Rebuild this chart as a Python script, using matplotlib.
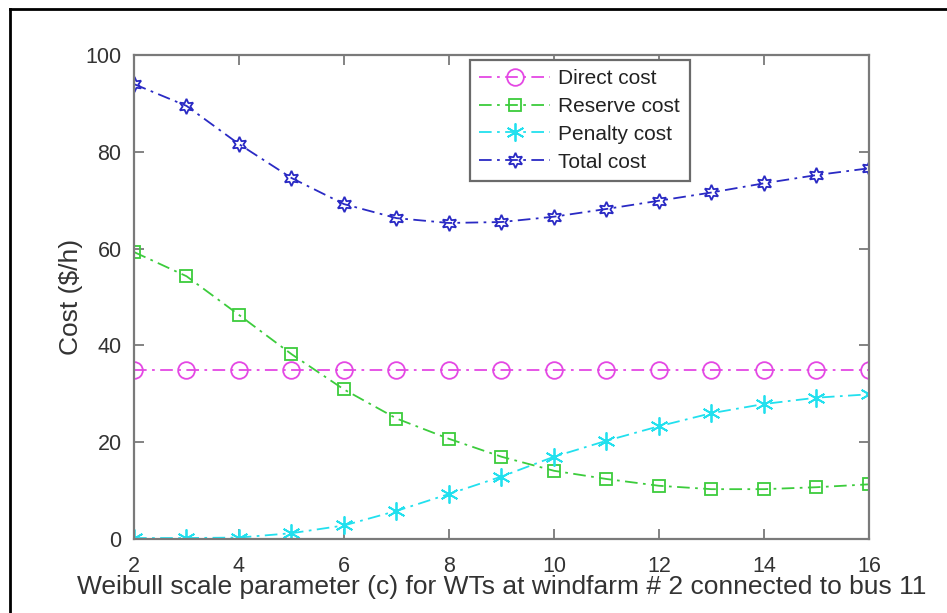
import matplotlib.pyplot as plt
from matplotlib.lines import Line2D
import numpy as np

plt.rcParams['font.family'] = ['Liberation Sans', 'DejaVu Sans']

c_values = [2, 3, 4, 5, 6, 7, 8, 9, 10, 11, 12, 13, 14, 15, 16]
direct_cost = [35, 35, 35, 35, 35, 35, 35, 35, 35, 35, 35, 35, 35, 35, 35]
reserve_cost = [59.3, 54.3, 46.3, 38.2, 30.9, 24.9, 20.7, 17.0, 14.1,
                12.4, 11.0, 10.3, 10.3, 10.7, 11.3]
penalty_cost = [0.2, 0.2, 0.3, 1.2, 2.8, 5.8, 9.3, 12.9, 17.0,
                20.3, 23.3, 26.0, 27.9, 29.2, 29.9]
total_cost = [94.0, 89.5, 81.6, 74.6, 69.2, 66.3, 65.3, 65.5, 66.6,
              68.2, 69.9, 71.6, 73.5, 75.2, 76.6]

x_ticks = [2, 4, 6, 8, 10, 12, 14, 16]
y_ticks = [0, 20, 40, 60, 80, 100]

fig = plt.figure(figsize=(9.47, 6.13), dpi=100)
ax = fig.add_axes([0.1415, 0.1207, 0.7761, 0.7895])

dash = (7, 3, 1.5, 3)
ax.plot(c_values, direct_cost, linestyle='-.', dashes=dash, color='#e448e4', lw=1.3,
        marker='o', ms=12, mfc='none', mew=1.3, label='Direct cost')
ax.plot(c_values, reserve_cost, linestyle='-.', dashes=dash, color='#3ccc3c', lw=1.3,
        marker='s', ms=8.5, mfc='none', mew=1.3, label='Reserve cost')
ax.plot(c_values, penalty_cost, linestyle='-.', dashes=dash, color='#22e0ee', lw=1.3,
        marker=(6, 2, 0), ms=13, mew=1.3, label='Penalty cost')
ax.plot(c_values, total_cost, linestyle='-.', dashes=dash, color='#2a2ac4', lw=1.3,
        marker=(6, 1, 0), ms=11, mfc='none', mew=1.3, label='Total cost')

ax.set_xlim(2, 16)
ax.set_ylim(0, 100)
ax.set_xticks(x_ticks)
ax.set_yticks(y_ticks)

for s in ax.spines.values():
    s.set_color('#7a7a7a')
    s.set_linewidth(1.6)
ax.tick_params(direction='in', length=7, width=1.3, color='#7a7a7a',
               top=True, right=True, labelsize=15.5, labelcolor='#333333')
ax.tick_params(axis='x', pad=12)
ax.tick_params(axis='y', pad=9)

ax.set_xlabel('Weibull scale parameter (c) for WTs at windfarm # 2 connected to bus 11',
              fontsize=19, color='#333333', labelpad=-1)
ax.set_ylabel('Cost ($/h)', fontsize=19, color='#333333', labelpad=2)

leg = ax.legend(loc='upper left', bbox_to_anchor=(0.457, 0.99), fontsize=15,
                handlelength=3.4, handletextpad=0.4, labelspacing=0.42,
                borderpad=0.45, borderaxespad=0, fancybox=False, framealpha=1)
leg.get_frame().set_edgecolor('#6a6a6a')
leg.get_frame().set_linewidth(1.6)
for t in leg.get_texts():
    t.set_color('#222222')

# outer border (left and top edges visible in reference)
fig.add_artist(Line2D([0.0105, 0.0105], [0, 0.986], transform=fig.transFigure,
                      color='black', lw=2))
fig.add_artist(Line2D([0.0105, 1.0], [0.986, 0.986], transform=fig.transFigure,
                      color='black', lw=2))

fig.savefig('out.png', dpi=100)
